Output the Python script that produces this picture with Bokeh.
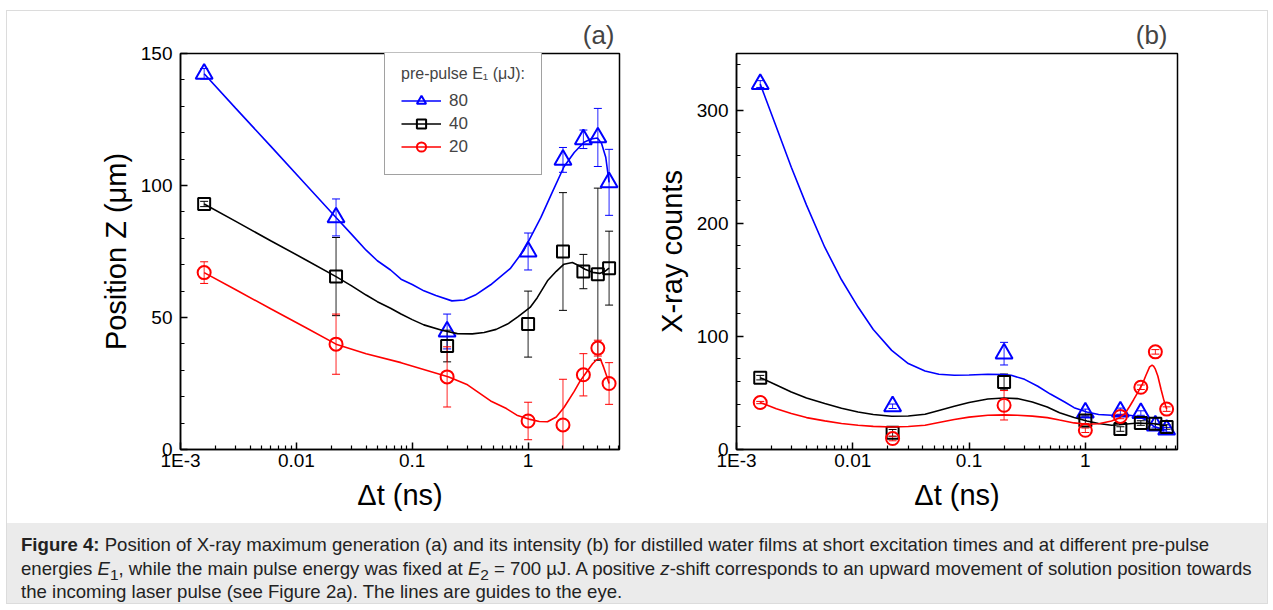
from bokeh.plotting import figure
from bokeh.models import (ColumnDataSource, Whisker, TeeHead, Legend, LegendItem,
                          FixedTicker, CustomJSTickFormatter, Range1d, Div,
                          SingleIntervalTicker)
from bokeh.layouts import row, column
from bokeh.embed import file_html
from bokeh.resources import INLINE

# ---------------- data ----------------
dt = [0.0016, 0.022, 0.2, 1, 2, 3, 4, 5]          # delay (ns)
energies = ["80", "40", "20"]                      # pre-pulse E1 (uJ)

# (a) Position Z (um)
posz_80 = [142.3, 87.9, 44.7, 75.0, 109.7, 117.5, 118.2, 101.2]
posz_80_err = [2, 7, 6.6, 7, 4.7, 3.5, 11, 12.5]
posz_40 = [93.0, 65.5, 39.2, 47.5, 75.0, 67.4, 66.4, 68.7]
posz_40_err = [1, 14.8, 6, 12.5, 22.3, 6.5, 32.6, 14]
posz_20 = [67.0, 39.9, 27.5, 10.8, 9.3, 28.3, 38.4, 25.0]
posz_20_err = [4.1, 11.4, 11.4, 7.1, 17.3, 8, 3, 7.9]

# (b) X-ray counts
cnt_80 = [323.0, 38.2, 84.7, 32.7, 33.6, 32.2, 21.1, 17.5]
cnt_80_err = [3, 2, 10, 3, 3, 2, 2, 2]
cnt_40 = [63.5, 14.7, 59.7, 25.7, 18.1, 23.4, 22.8, 19.9]
cnt_40_err = [2, 3, 7, 3, 2, 2, 5, 2]
cnt_20 = [41.5, 9.7, 39.1, 17.0, 29.2, 55.0, 86.3, 35.7]
cnt_20_err = [1, 2, 13, 2, 2, 2, 2, 2]

# guide-to-the-eye curves
guide_a80_x = [0.0016, 0.003, 0.006, 0.012, 0.022, 0.03, 0.04, 0.05, 0.065, 0.08, 0.1, 0.126,
               0.16, 0.22, 0.28, 0.35, 0.475, 0.7, 0.92, 1.29, 1.6, 2.04, 2.5, 3.04, 3.5,
               3.96, 4.3, 4.68, 5.0]
guide_a80_y = [142.3, 129.2, 114.9, 100.5, 87.9, 81.5, 75.5, 71.5, 68.0, 64.5, 62.5, 60.1,
               58.3, 56.3, 56.6, 58.5, 62.4, 68.5, 75.5, 87.9, 97.0, 107.1, 112.5, 116.4, 117.6,
               118.0, 116.0, 110.7, 101.2]
guide_a40_x = [0.0016, 0.003, 0.006, 0.012, 0.022, 0.03, 0.04, 0.05, 0.065, 0.08, 0.1, 0.126,
               0.18, 0.245, 0.33, 0.417, 0.53, 0.664, 0.82, 1.04, 1.2, 1.47, 1.75, 2.04, 2.41,
               2.7, 3.1, 3.6, 4.15, 4.6, 5.0]
guide_a40_y = [93.0, 86.4, 79.1, 71.9, 65.5, 62.0, 58.5, 56.0, 53.5, 51.3, 49.2, 47.2,
               45.2, 43.9, 43.8, 44.3, 45.5, 47.5, 50.3, 53.8, 57.5, 63.9, 67.5, 70.2, 70.8,
               69.8, 68.3, 67.1, 66.7, 67.5, 68.7]
guide_a20_x = [0.0016, 0.003, 0.006, 0.012, 0.022, 0.04, 0.08, 0.207, 0.3, 0.475, 0.65, 0.8,
               1.04, 1.25, 1.47, 1.75, 2.04, 2.5, 2.8, 3.1, 3.6, 3.9, 4.2, 4.5, 4.8, 5.0]
guide_a20_y = [67.0, 60.5, 53.3, 46.2, 39.9, 36.3, 32.9, 27.5, 24.5, 18.4, 15.5, 13.0,
               11.4, 10.6, 10.5, 12.3, 15.9, 22.0, 25.8, 28.5, 32.5, 34.0, 34.4, 31.0, 27.5, 25.0]

guide_b80_x = [0.0016, 0.0022, 0.00296, 0.004, 0.00574, 0.008, 0.0111, 0.015, 0.0216, 0.03,
               0.0418, 0.055, 0.0746, 0.1, 0.145, 0.2, 0.23, 0.3, 0.39, 0.5, 0.664, 0.8, 1.03,
               1.3, 1.68, 2.3, 2.85, 3.4, 3.86, 4.4, 5.0]
guide_b80_y = [323, 285, 249.4, 216, 178.8, 150, 125.9, 106, 87.6, 76,
               69.4, 66.5, 65.6, 65.8, 66.5, 66.2, 65.6, 62, 55.9, 49, 42.0, 37, 33.2,
               31, 30.3, 30.5, 29.2, 25.5, 20.5, 18.5, 17.0]
guide_b40_x = [0.0016, 0.0022, 0.00296, 0.004, 0.00574, 0.008, 0.0111, 0.015, 0.0216, 0.03,
               0.0418, 0.055, 0.0746, 0.1, 0.145, 0.2, 0.26, 0.35, 0.47, 0.6, 0.80, 1.03,
               1.3, 1.68, 1.95, 2.4, 2.85, 3.86, 5.0]
guide_b40_y = [63.5, 57, 50.8, 45.5, 40.6, 36.5, 33.2, 31, 29.4, 29.6,
               31.2, 34.5, 38.2, 41.5, 44.7, 45.5, 45.0, 42, 37.6, 32.5, 28.2, 25.2,
               23, 21.4, 21.9, 22.8, 23.4, 22.8, 21.0]
guide_b20_x = [0.0016, 0.0022, 0.00296, 0.004, 0.00574, 0.008, 0.0111, 0.015, 0.0216, 0.03,
               0.0418, 0.055, 0.0746, 0.1, 0.145, 0.2, 0.26, 0.35, 0.47, 0.6, 0.80, 1.03,
               1.3, 1.68, 1.95, 2.2, 2.4, 2.6, 2.85, 3.1, 3.3, 3.57, 3.75, 3.86, 4.0, 4.2,
               4.49, 4.75, 5.0]
guide_b20_y = [41.5, 36, 31.8, 28.2, 25.3, 23, 21.4, 20.4, 19.9, 20.3,
               21.4, 23.8, 26.5, 28.6, 30.3, 30.6, 30.3, 29.5, 28.2, 26, 23.5, 22.3,
               22.8, 25.2, 27.8, 32, 38.0, 44, 51.2, 58, 65.0, 73.0, 74.5, 73.7, 71, 65.0,
               52.6, 43, 35.7]

x_ticks = [0.001, 0.01, 0.1, 1]
x_tick_labels = ["1E-3", "0.01", "0.1", "1"]

FONT = "Liberation Sans"
COLORS = {"80": "#0000ff", "40": "#000000", "20": "#ff0000"}
MARKERS = {"80": ("triangle", 17), "40": ("square", 12), "20": ("circle", 13)}


def make_fig(ymax, yinterval, ylabel, panel, title_offset, min_left, frame_w, min_right, xmax):
    p = figure(x_axis_type="log", x_range=Range1d(0.001, xmax), y_range=Range1d(0, ymax),
               frame_width=frame_w, frame_height=396,
               min_border_left=min_left, min_border_right=min_right,
               min_border_top=42, min_border_bottom=74,
               output_backend="svg", toolbar_location=None)
    p.xgrid.visible = False
    p.ygrid.visible = False
    p.outline_line_color = "black"
    p.outline_line_width = 1.5
    p.outline_line_alpha = 1.0
    p.background_fill_color = "white"
    p.border_fill_color = "white"

    p.title.text = panel
    p.title.align = "right"
    p.title.offset = title_offset
    p.title.standoff = 7
    p.title.text_font = FONT
    p.title.text_font_size = "26px"
    p.title.text_font_style = "normal"

    xa = p.xaxis[0]
    minor = [m * 10.0 ** e for e in (-3, -2, -1) for m in range(2, 10)] + [2, 3, 4, 5, 6]
    xa.ticker = FixedTicker(ticks=x_ticks, minor_ticks=minor)
    xa.formatter = CustomJSTickFormatter(
        args=dict(tvals=x_ticks, tlabels=x_tick_labels),
        code="""
        for (let i = 0; i < tvals.length; i++) {
          if (Math.abs(Math.log10(tvals[i]) - Math.log10(tick)) < 1e-6) return tlabels[i];
        }
        return '';
        """)
    xa.axis_label = "\u0394t (ns)"
    xa.major_label_standoff = 0
    xa.axis_label_standoff = 5

    ya = p.yaxis[0]
    ya.ticker = SingleIntervalTicker(interval=yinterval, num_minor_ticks=5)
    ya.axis_label = ylabel
    ya.major_label_standoff = 8
    ya.axis_label_standoff = 6

    for ax in (xa, ya):
        ax.major_tick_in = 7
        ax.major_tick_out = 0
        ax.minor_tick_in = 4
        ax.minor_tick_out = 0
        ax.axis_line_width = 1.5
        ax.major_tick_line_width = 1.5
        ax.minor_tick_line_width = 1.2
        ax.major_label_text_font = FONT
        ax.major_label_text_font_size = "19px"
        ax.major_label_text_color = "black"
        ax.axis_label_text_font = FONT
        ax.axis_label_text_font_size = "29px"
        ax.axis_label_text_font_style = "normal"
        ax.axis_label_text_color = "black"
    return p


def draw(p, vals, errs, gx, gy):
    out = {}
    for key in energies:
        c = COLORS[key]
        mk, sz = MARKERS[key]
        ln = p.line(gx[key], gy[key], line_color=c, line_width=1.6)
        v, e = vals[key], errs[key]
        src = ColumnDataSource(dict(
            x=dt,
            upper=[a + b for a, b in zip(v, e)],
            lower=[max(0.0, a - b) for a, b in zip(v, e)]))
        w = Whisker(base="x", upper="upper", lower="lower", source=src,
                    line_color=c, line_width=1, line_alpha=0.85,
                    upper_head=TeeHead(size=8, line_color=c, line_width=1),
                    lower_head=TeeHead(size=8, line_color=c, line_width=1))
        p.add_layout(w)
        sc = p.scatter(dt, v, marker=mk, size=sz, line_color=c, fill_color=None,
                       line_width=2)
        out[key] = (ln, sc)
    return out


pa = make_fig(150, 50, "Position Z (\u03bcm)", "(a)", 5, 173, 439, 18, 6.15)
ra = draw(pa,
          {"80": posz_80, "40": posz_40, "20": posz_20},
          {"80": posz_80_err, "40": posz_40_err, "20": posz_20_err},
          {"80": guide_a80_x, "40": guide_a40_x, "20": guide_a20_x},
          {"80": guide_a80_y, "40": guide_a40_y, "20": guide_a20_y})

legend = Legend(items=[LegendItem(label=k, renderers=list(ra[k])) for k in energies],
                location=(204, 274),
                title="pre-pulse E\u2081 (\u03bcJ):",
                title_text_font=FONT, title_text_font_size="16px",
                title_text_font_style="normal", title_standoff=6,
                label_text_font=FONT, label_text_font_size="17px",
                glyph_width=40, glyph_height=23, label_height=23, spacing=0,
                label_standoff=8, padding=16, margin=0,
                border_line_color="#444444", border_line_width=1,
                background_fill_color="white", background_fill_alpha=1.0)
pa.add_layout(legend)

pb = make_fig(350, 100, "X-ray counts", "(b)", 10, 99, 441, 89, 6.2)
draw(pb,
     {"80": cnt_80, "40": cnt_40, "20": cnt_20},
     {"80": cnt_80_err, "40": cnt_40_err, "20": cnt_20_err},
     {"80": guide_b80_x, "40": guide_b40_x, "20": guide_b20_x},
     {"80": guide_b80_y, "40": guide_b40_y, "20": guide_b20_y})

caption_html = (
    "<b>Figure 4:</b> Position of X-ray maximum generation (a) and its intensity (b) for "
    "distilled water films at short excitation times and at different pre-pulse<br>"
    "energies <i>E</i><sub style='line-height:0'>1</sub>, while the main pulse energy was fixed at "
    "<i>E</i><sub style='line-height:0'>2</sub> = 700 \u00b5J. A positive <i>z</i>-shift corresponds to an upward "
    "movement of solution position towards<br>"
    "the incoming laser pulse (see Figure 2a). The lines are guides to the eye."
)
caption = Div(text=caption_html, width=1260, height=80, margin=(0, 0, 0, 0),
              styles={"background-color": "#ebebeb",
                      "font-family": "'Liberation Sans', Arial, sans-serif",
                      "font-size": "18.6px", "line-height": "23.5px", "color": "#222222",
                      "padding": "10px 14px 0px 14px", "box-sizing": "border-box",
                      "white-space": "nowrap"})

root = column(row(pa, pb), caption, margin=(10, 0, 0, 6),
              styles={"border": "1px solid #dcdcdc"})

open("out.html", "w").write(file_html(root, INLINE, title="Figure 4"))
